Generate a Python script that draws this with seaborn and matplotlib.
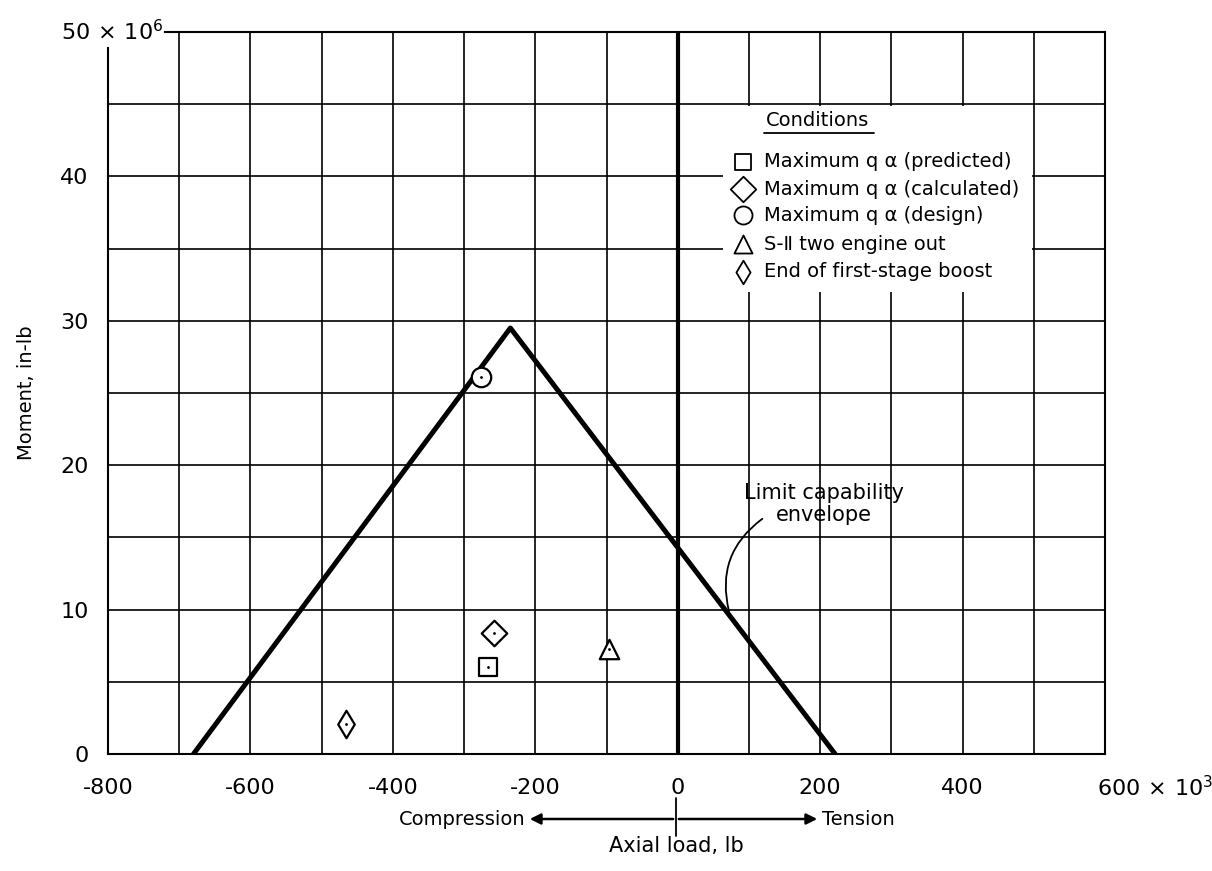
import matplotlib
matplotlib.use("Agg")
import matplotlib.pyplot as plt
import seaborn as sns
from matplotlib.patches import Rectangle, FancyArrowPatch
from matplotlib.lines import Line2D

# ---------------- data ----------------
envelope_load = [-680, -235, 221]          # x 10^3 lb
envelope_moment = [0, 29.5, 0]             # x 10^6 in-lb

cond_labels = ["Maximum q α (predicted)", "Maximum q α (calculated)",
               "Maximum q α (design)", "S-Ⅱ two engine out",
               "End of first-stage boost"]
cond_load = [-266, -258, -276, -96, -466]
cond_moment = [6.0, 8.4, 26.1, 7.3, 2.1]
cond_markers = ["s", "D", "o", "^", "d"]
cond_sizes = [13, 13, 14, 14, 14]

x_ticks = [-800, -600, -400, -200, 0, 200, 400]
x_ticklabels = ["-800", "-600", "-400", "-200", "0", "200", "400"]
y_ticks = [0, 10, 20, 30, 40]
y_ticklabels = ["0", "10", "20", "30", "40"]

# ---------------- figure ----------------
sns.set_style("white")
plt.rcParams["font.family"] = ["DejaVu Sans"]
plt.rcParams["axes.unicode_minus"] = False
plt.rcParams["text.color"] = "black"
plt.rcParams["axes.labelcolor"] = "black"
plt.rcParams["mathtext.fontset"] = "dejavusans"

W, H = 1212, 871
fig = plt.figure(figsize=(W / 100, H / 100), dpi=100)
L, R, T, B = 108, 1105, 32, 754
ax = fig.add_axes([L / W, 1 - B / H, (R - L) / W, (B - T) / H])
ax.set_xlim(-800, 600)
ax.set_ylim(0, 50)

# ticks & grid (grid only on interior minor positions)
ax.xaxis.remove_overlapping_locs = False
ax.yaxis.remove_overlapping_locs = False
ax.set_xticks(x_ticks)
ax.set_xticklabels(x_ticklabels)
ax.set_xticks(list(range(-700, 600, 100)), minor=True)
ax.set_yticks(y_ticks)
ax.set_yticklabels(y_ticklabels)
ax.set_yticks(list(range(5, 50, 5)), minor=True)
ax.grid(False, which="major")
ax.grid(True, which="minor", color="black", linewidth=1.2)
ax.set_axisbelow(True)
ax.tick_params(axis="both", which="both", length=0, labelsize=16, colors="black")
ax.tick_params(axis="x", pad=17)
ax.tick_params(axis="y", pad=14)

for s in ax.spines.values():
    s.set_color("black")
    s.set_linewidth(1.5)
ax.spines["left"].set_bounds(0, 48.9)
ax.spines["top"].set_bounds(-720, 600)

# special corner labels
ax.text(-722, 50, r"50$\,\times\,$10$^6$", fontsize=16, ha="right", va="center",
        clip_on=False)
ax.text(589, -1.45, r"600$\,\times\,$10$^3$", fontsize=16, ha="left", va="top",
        clip_on=False)

# zero axial-load line
ax.axvline(0, color="black", linewidth=3.0, zorder=2)

# envelope
sns.lineplot(x=envelope_load, y=envelope_moment, sort=False, color="black",
             linewidth=3.6, ax=ax, zorder=3, legend=False)

# condition points
for xl, ym, m, sz in zip(cond_load, cond_moment, cond_markers, cond_sizes):
    sns.scatterplot(x=[xl], y=[ym], marker=m, s=sz ** 2, color="white",
                    edgecolor="black", linewidth=1.6, ax=ax, zorder=4, legend=False)
sns.scatterplot(x=cond_load, y=cond_moment, s=4, color="black", linewidth=0,
                ax=ax, zorder=5, legend=False)

# legend box (manual)
ax.add_patch(Rectangle((64, 32), 434, 12.9, facecolor="white", edgecolor="none", zorder=2.5))
ax.text(196, 43.9, "Conditions", fontsize=14, ha="center", va="center", zorder=6)
ax.plot([121, 276], [43.0, 43.0], color="black", linewidth=1.3, zorder=6)
leg_y = [41.0, 39.1, 37.3, 35.3, 33.4]
leg_sizes = [12, 13, 13, 13, 12]
for lab, m, yy, sz in zip(cond_labels, cond_markers, leg_y, leg_sizes):
    ax.scatter([91], [yy], marker=m, s=sz ** 2, facecolor="white",
               edgecolor="black", linewidth=1.3, zorder=6)
    ax.text(121, yy, lab, fontsize=14, ha="left", va="center", zorder=6)

# envelope annotation
ax.text(205, 17.3, "Limit capability\nenvelope", fontsize=15, ha="center",
        va="center", multialignment="center", linespacing=1.1, zorder=6)
ax.add_patch(FancyArrowPatch((122, 16.4), (73, 9.7), arrowstyle="-",
                             connectionstyle="arc3,rad=0.35", color="black",
                             linewidth=1.3, zorder=6))

# axis labels
ax.set_ylabel("Moment, in-lb", fontsize=14)
ax.yaxis.set_label_coords((36 - L) / (R - L), 0.5)
ax.set_xlabel("Axial load, lb", fontsize=15)
ax.xaxis.set_label_coords((676 - L) / (R - L), (B - 836) / (B - T))

# compression / tension arrows
def fx(px):
    return px / W

def fy(py):
    return 1 - py / H

ya = 819
fig.add_artist(FancyArrowPatch((fx(676), fy(ya)), (fx(527), fy(ya)),
                               transform=fig.transFigure, arrowstyle="-|>",
                               mutation_scale=16, color="black", linewidth=1.8))
fig.add_artist(FancyArrowPatch((fx(676), fy(ya)), (fx(820), fy(ya)),
                               transform=fig.transFigure, arrowstyle="-|>",
                               mutation_scale=16, color="black", linewidth=1.8))
fig.add_artist(Line2D([fx(676), fx(676)], [fy(798), fy(836)],
                      transform=fig.transFigure, color="black", linewidth=1.3))
fig.text(fx(525), fy(ya), "Compression", fontsize=14, ha="right", va="center")
fig.text(fx(822), fy(ya), "Tension", fontsize=14, ha="left", va="center")

fig.savefig("out.png", dpi=100, facecolor="white")
